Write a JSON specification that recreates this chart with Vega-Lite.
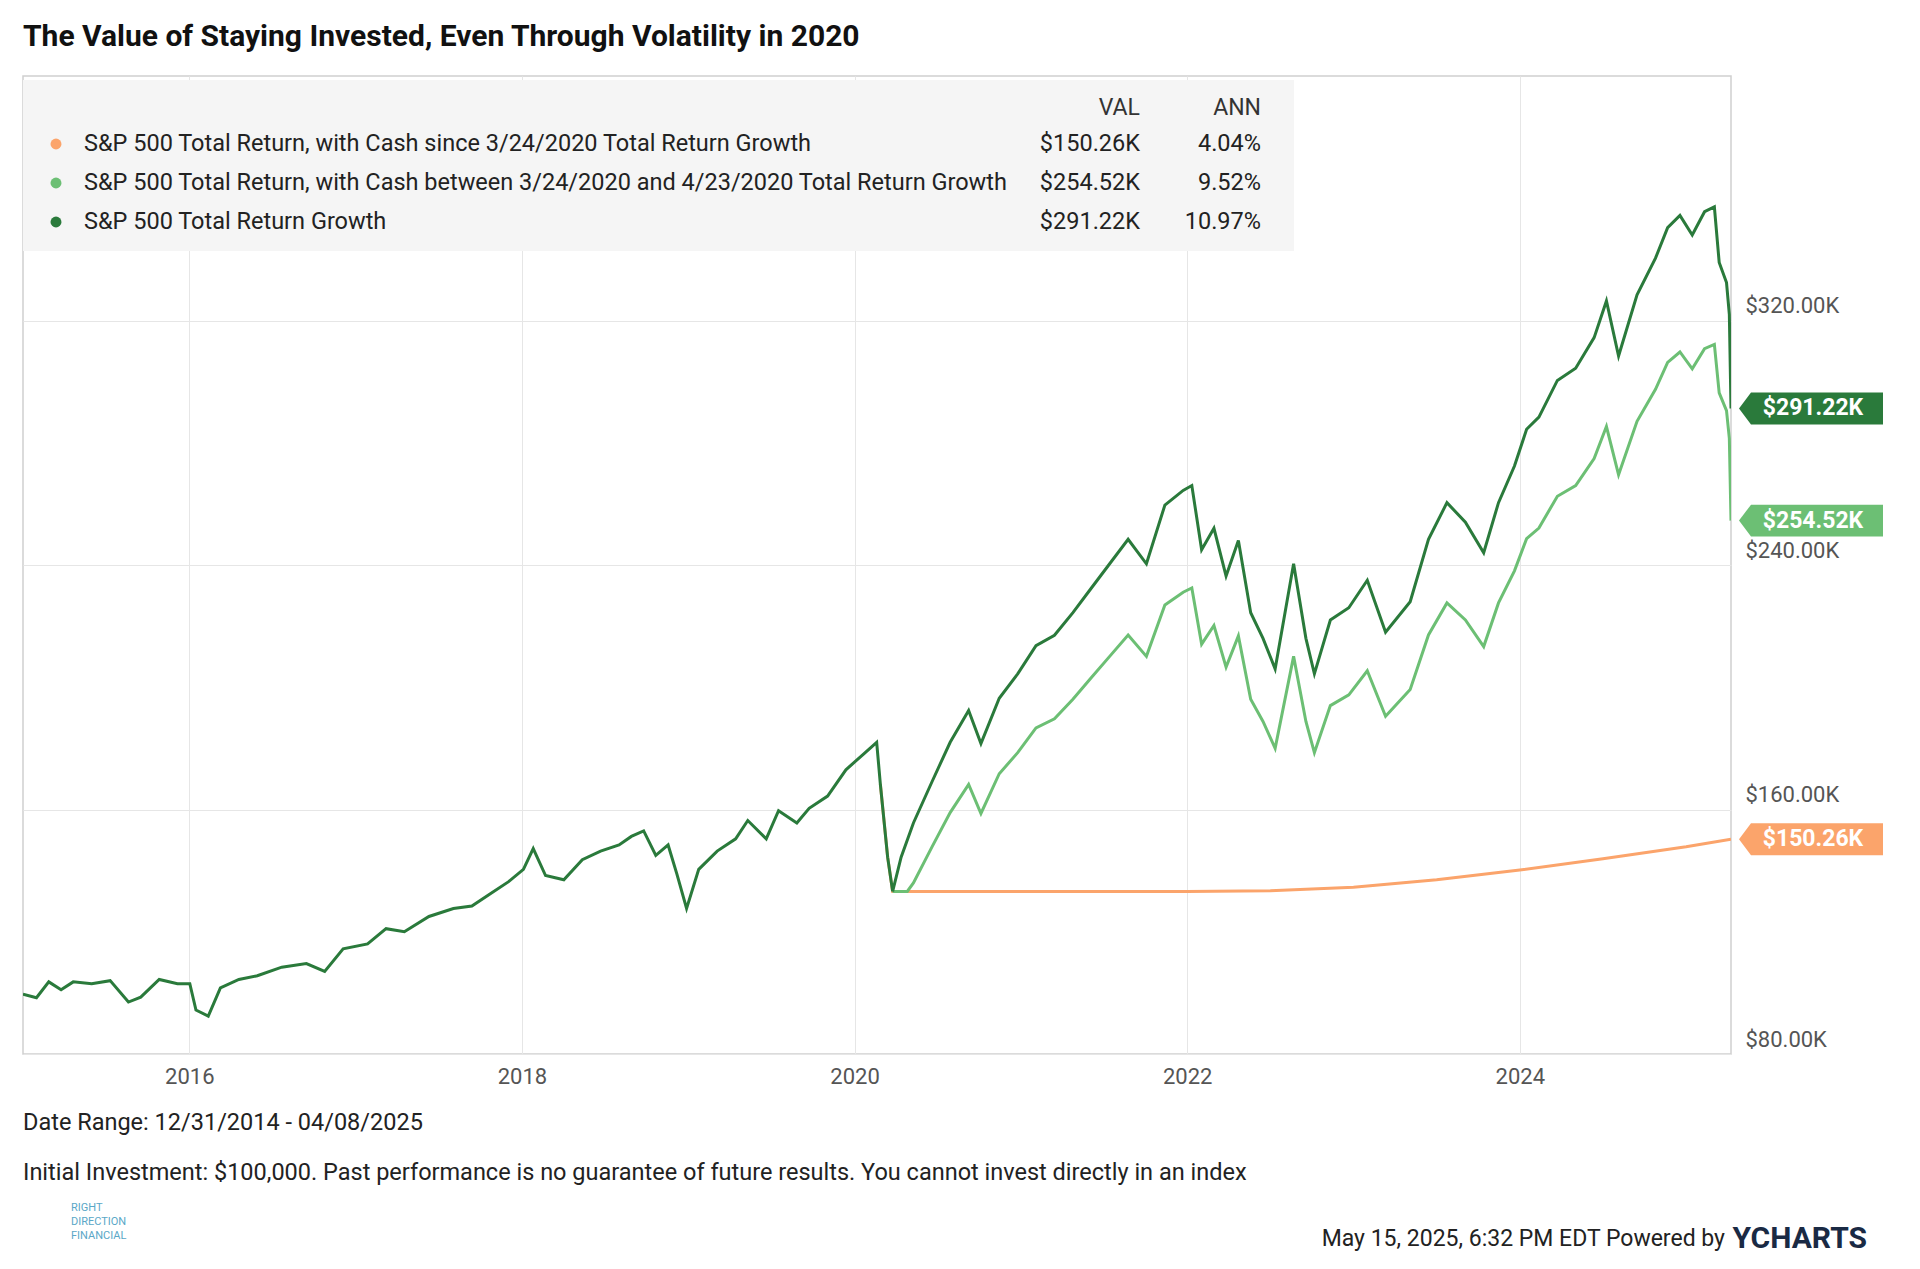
{
  "$schema": "https://vega.github.io/schema/vega-lite/v6.json",
  "width": 1708,
  "height": 978,
  "autosize": "none",
  "padding": {"left": 23, "top": 76, "right": 189, "bottom": 215},
  "background": "white",
  "config": {
    "font": "Roboto",
    "view": {"stroke": "#d0d0d0", "strokeWidth": 1.5}
  },
  "datasets": {
    "dark": [
      {"t": 2015.000, "v": 99.6}, {"t": 2015.081, "v": 98.4}, {"t": 2015.155, "v": 103.6},
      {"t": 2015.229, "v": 101.0}, {"t": 2015.302, "v": 103.6}, {"t": 2015.413, "v": 103.0},
      {"t": 2015.524, "v": 104.0}, {"t": 2015.634, "v": 97.0}, {"t": 2015.708, "v": 98.6},
      {"t": 2015.819, "v": 104.4}, {"t": 2015.929, "v": 103.0}, {"t": 2016.003, "v": 103.0},
      {"t": 2016.040, "v": 94.4}, {"t": 2016.114, "v": 92.4}, {"t": 2016.187, "v": 101.6},
      {"t": 2016.298, "v": 104.4}, {"t": 2016.409, "v": 105.6}, {"t": 2016.556, "v": 108.4},
      {"t": 2016.704, "v": 109.6}, {"t": 2016.814, "v": 107.0}, {"t": 2016.925, "v": 114.4},
      {"t": 2017.072, "v": 116.0}, {"t": 2017.183, "v": 121.0}, {"t": 2017.293, "v": 120.0},
      {"t": 2017.441, "v": 125.0}, {"t": 2017.588, "v": 127.6}, {"t": 2017.699, "v": 128.4},
      {"t": 2017.810, "v": 132.4}, {"t": 2017.920, "v": 136.4}, {"t": 2018.009, "v": 140.4},
      {"t": 2018.068, "v": 147.2}, {"t": 2018.142, "v": 138.4}, {"t": 2018.252, "v": 137.0},
      {"t": 2018.363, "v": 143.6}, {"t": 2018.473, "v": 146.4}, {"t": 2018.584, "v": 148.4},
      {"t": 2018.658, "v": 151.2}, {"t": 2018.732, "v": 153.0}, {"t": 2018.805, "v": 145.0},
      {"t": 2018.879, "v": 148.4}, {"t": 2018.931, "v": 139.0}, {"t": 2018.990, "v": 127.6},
      {"t": 2019.063, "v": 140.4}, {"t": 2019.174, "v": 146.4}, {"t": 2019.285, "v": 150.4},
      {"t": 2019.358, "v": 156.4}, {"t": 2019.469, "v": 150.4}, {"t": 2019.543, "v": 159.6},
      {"t": 2019.653, "v": 155.6}, {"t": 2019.727, "v": 160.4}, {"t": 2019.838, "v": 164.4},
      {"t": 2019.948, "v": 173.0}, {"t": 2020.059, "v": 178.4}, {"t": 2020.133, "v": 182.0},
      {"t": 2020.155, "v": 168.4}, {"t": 2020.199, "v": 144.4}, {"t": 2020.229, "v": 133.2},
      {"t": 2020.280, "v": 144.4}, {"t": 2020.354, "v": 155.6}, {"t": 2020.465, "v": 169.0},
      {"t": 2020.575, "v": 182.0}, {"t": 2020.686, "v": 192.4}, {"t": 2020.760, "v": 181.6},
      {"t": 2020.870, "v": 196.4}, {"t": 2020.981, "v": 204.4}, {"t": 2021.091, "v": 213.6},
      {"t": 2021.202, "v": 217.0}, {"t": 2021.313, "v": 224.4}, {"t": 2021.423, "v": 232.4},
      {"t": 2021.534, "v": 240.4}, {"t": 2021.645, "v": 248.4}, {"t": 2021.755, "v": 240.4},
      {"t": 2021.866, "v": 259.6}, {"t": 2021.976, "v": 264.4}, {"t": 2022.028, "v": 266.0},
      {"t": 2022.087, "v": 245.0}, {"t": 2022.161, "v": 252.0}, {"t": 2022.234, "v": 236.4},
      {"t": 2022.308, "v": 248.0}, {"t": 2022.382, "v": 224.4}, {"t": 2022.456, "v": 216.0},
      {"t": 2022.529, "v": 206.0}, {"t": 2022.640, "v": 240.4}, {"t": 2022.714, "v": 216.0},
      {"t": 2022.765, "v": 204.4}, {"t": 2022.861, "v": 222.0}, {"t": 2022.972, "v": 226.0},
      {"t": 2023.083, "v": 235.0}, {"t": 2023.193, "v": 218.0}, {"t": 2023.341, "v": 228.0},
      {"t": 2023.451, "v": 248.4}, {"t": 2023.562, "v": 260.4}, {"t": 2023.673, "v": 254.0},
      {"t": 2023.783, "v": 244.0}, {"t": 2023.872, "v": 260.4}, {"t": 2023.968, "v": 272.4},
      {"t": 2024.041, "v": 284.4}, {"t": 2024.115, "v": 288.4}, {"t": 2024.226, "v": 300.4},
      {"t": 2024.336, "v": 304.4}, {"t": 2024.447, "v": 314.4}, {"t": 2024.521, "v": 326.4},
      {"t": 2024.594, "v": 308.4}, {"t": 2024.705, "v": 328.4}, {"t": 2024.816, "v": 340.4},
      {"t": 2024.889, "v": 350.4}, {"t": 2024.963, "v": 354.4}, {"t": 2025.037, "v": 348.0},
      {"t": 2025.111, "v": 355.6}, {"t": 2025.170, "v": 357.2}, {"t": 2025.199, "v": 339.0},
      {"t": 2025.243, "v": 332.4}, {"t": 2025.260, "v": 322.0}, {"t": 2025.270, "v": 291.22}
    ],
    "light": [
      {"t": 2020.229, "v": 133.2}, {"t": 2020.317, "v": 133.2}, {"t": 2020.354, "v": 136.0},
      {"t": 2020.465, "v": 147.7}, {"t": 2020.575, "v": 159.0}, {"t": 2020.686, "v": 168.2},
      {"t": 2020.760, "v": 158.7}, {"t": 2020.870, "v": 171.7}, {"t": 2020.981, "v": 178.6},
      {"t": 2021.091, "v": 186.7}, {"t": 2021.202, "v": 189.7}, {"t": 2021.313, "v": 196.1},
      {"t": 2021.423, "v": 203.1}, {"t": 2021.534, "v": 210.1}, {"t": 2021.645, "v": 217.1},
      {"t": 2021.755, "v": 210.1}, {"t": 2021.866, "v": 226.9}, {"t": 2021.976, "v": 231.1},
      {"t": 2022.028, "v": 232.5}, {"t": 2022.087, "v": 214.1}, {"t": 2022.161, "v": 220.2},
      {"t": 2022.234, "v": 206.6}, {"t": 2022.308, "v": 216.8}, {"t": 2022.382, "v": 196.1},
      {"t": 2022.456, "v": 188.8}, {"t": 2022.529, "v": 180.0}, {"t": 2022.640, "v": 210.1},
      {"t": 2022.714, "v": 188.8}, {"t": 2022.765, "v": 178.6}, {"t": 2022.861, "v": 194.0},
      {"t": 2022.972, "v": 197.5}, {"t": 2023.083, "v": 205.4}, {"t": 2023.193, "v": 190.5},
      {"t": 2023.341, "v": 199.3}, {"t": 2023.451, "v": 217.1}, {"t": 2023.562, "v": 227.6},
      {"t": 2023.673, "v": 222.0}, {"t": 2023.783, "v": 213.3}, {"t": 2023.872, "v": 227.6},
      {"t": 2023.968, "v": 238.1}, {"t": 2024.041, "v": 248.6}, {"t": 2024.115, "v": 252.1},
      {"t": 2024.226, "v": 262.5}, {"t": 2024.336, "v": 266.0}, {"t": 2024.447, "v": 274.8},
      {"t": 2024.521, "v": 285.3}, {"t": 2024.594, "v": 269.5}, {"t": 2024.705, "v": 287.0},
      {"t": 2024.816, "v": 297.5}, {"t": 2024.889, "v": 306.3}, {"t": 2024.963, "v": 309.7},
      {"t": 2025.037, "v": 304.2}, {"t": 2025.111, "v": 310.8}, {"t": 2025.170, "v": 312.2},
      {"t": 2025.199, "v": 296.3}, {"t": 2025.243, "v": 290.5}, {"t": 2025.260, "v": 281.4},
      {"t": 2025.270, "v": 254.52}
    ],
    "orange": [
      {"t": 2020.155, "v": 168.4}, {"t": 2020.199, "v": 144.4}, {"t": 2020.229, "v": 133.2},
      {"t": 2021.0, "v": 133.2}, {"t": 2022.0, "v": 133.2}, {"t": 2022.5, "v": 133.4},
      {"t": 2023.0, "v": 134.6}, {"t": 2023.5, "v": 137.0}, {"t": 2024.0, "v": 140.2},
      {"t": 2024.5, "v": 143.9}, {"t": 2025.0, "v": 147.8}, {"t": 2025.270, "v": 150.26}
    ],
    "tags": [
      {"v": 291.22, "label": "$291.22K", "c": "#2a7a3b"},
      {"v": 254.52, "label": "$254.52K", "c": "#6cbf74"},
      {"v": 150.26, "label": "$150.26K", "c": "#fba46b"}
    ]
  },
  "layer": [
    {
      "data": {"name": "dark"},
      "encoding": {
        "x": {
          "field": "t", "type": "quantitative",
          "scale": {"domain": [2015.0, 2025.27], "nice": false, "zero": false},
          "axis": {
            "values": [2016, 2018, 2020, 2022, 2024], "format": "d", "title": null,
            "grid": true, "gridColor": "#e6e6e6", "ticks": false, "domain": false,
            "labelFontSize": 22, "labelColor": "#555555", "labelPadding": 12
          }
        },
        "y": {
          "field": "v", "type": "quantitative",
          "scale": {"domain": [80, 400], "nice": false, "zero": false},
          "axis": {
            "orient": "right", "values": [80, 160, 240, 320], "title": null,
            "labelExpr": "'$' + format(datum.value, '.2f') + 'K'",
            "grid": true, "gridColor": "#e6e6e6", "ticks": false, "domain": false,
            "labelFontSize": 22, "labelColor": "#555555", "labelPadding": 14,
            "labelBaseline": "bottom", "labelOffset": -3
          }
        }
      },
      "layer": [
        {
          "data": {"name": "orange"},
          "mark": {"type": "line", "color": "#fba46b", "strokeWidth": 3, "clip": true}
        },
        {
          "data": {"name": "light"},
          "mark": {"type": "line", "color": "#6cbf74", "strokeWidth": 3, "clip": true}
        },
        {
          "mark": {"type": "line", "color": "#2a7a3b", "strokeWidth": 3, "clip": true}
        },
        {
          "data": {"name": "tags"},
          "mark": {
            "type": "point", "filled": true, "opacity": 1, "size": 20736,
            "shape": "M-1,0 L-0.833,-0.222 L1,-0.222 L1,0.222 L-0.833,0.222 Z"
          },
          "encoding": {
            "x": {"value": 1788},
            "color": {"field": "c", "type": "nominal", "scale": null}
          }
        },
        {
          "data": {"name": "tags"},
          "mark": {"type": "text", "color": "white", "fontWeight": "bold", "fontSize": 23, "align": "center", "baseline": "middle"},
          "encoding": {"x": {"value": 1790}, "text": {"field": "label"}}
        }
      ]
    },
    {
      "data": {"values": [{"k": 1}]},
      "mark": {"type": "rect", "color": "#f5f5f5", "x": 0, "x2": 1271, "y": 4, "y2": 175}
    },
    {
      "data": {"values": [{"k": 1}]},
      "mark": {"type": "text", "fontSize": 23, "color": "#333333", "align": "right", "baseline": "middle", "x": 1117, "y": 32, "text": "VAL"}
    },
    {
      "data": {"values": [{"k": 1}]},
      "mark": {"type": "text", "fontSize": 23, "color": "#333333", "align": "right", "baseline": "middle", "x": 1238, "y": 32, "text": "ANN"}
    },
    {
      "data": {"values": [{"k": 1}]},
      "mark": {"type": "point", "filled": true, "opacity": 1, "size": 120, "color": "#fba46b", "x": 33, "y": 68}
    },
    {
      "data": {"values": [{"k": 1}]},
      "mark": {"type": "point", "filled": true, "opacity": 1, "size": 120, "color": "#6cbf74", "x": 33, "y": 107}
    },
    {
      "data": {"values": [{"k": 1}]},
      "mark": {"type": "point", "filled": true, "opacity": 1, "size": 120, "color": "#2a7a3b", "x": 33, "y": 146}
    },
    {
      "data": {"values": [
        {"s": "S&P 500 Total Return, with Cash since 3/24/2020 Total Return Growth", "val": "$150.26K", "ann": "4.04%", "y": 68},
        {"s": "S&P 500 Total Return, with Cash between 3/24/2020 and 4/23/2020 Total Return Growth", "val": "$254.52K", "ann": "9.52%", "y": 107},
        {"s": "S&P 500 Total Return Growth", "val": "$291.22K", "ann": "10.97%", "y": 146}
      ]},
      "layer": [
        {"mark": {"type": "text", "fontSize": 23.5, "color": "#222222", "align": "left", "baseline": "middle", "x": 61}, "encoding": {"y": {"field": "y", "type": "quantitative", "scale": null}, "text": {"field": "s"}}},
        {"mark": {"type": "text", "fontSize": 23.5, "color": "#222222", "align": "right", "baseline": "middle", "x": 1117}, "encoding": {"y": {"field": "y", "type": "quantitative", "scale": null}, "text": {"field": "val"}}},
        {"mark": {"type": "text", "fontSize": 23.5, "color": "#222222", "align": "right", "baseline": "middle", "x": 1238}, "encoding": {"y": {"field": "y", "type": "quantitative", "scale": null}, "text": {"field": "ann"}}}
      ]
    },
    {
      "data": {"values": [{"k": 1}]},
      "mark": {"type": "text", "fontSize": 30, "fontWeight": "bold", "color": "#111111", "align": "left", "baseline": "middle", "x": 0, "y": -39, "text": "The Value of Staying Invested, Even Through Volatility in 2020"}
    },
    {
      "data": {"values": [{"k": 1}]},
      "mark": {"type": "text", "fontSize": 23.5, "color": "#222222", "align": "left", "baseline": "middle", "x": 0, "y": 1047, "text": "Date Range: 12/31/2014 - 04/08/2025"}
    },
    {
      "data": {"values": [{"k": 1}]},
      "mark": {"type": "text", "fontSize": 23.5, "color": "#222222", "align": "left", "baseline": "middle", "x": 0, "y": 1097, "text": "Initial Investment: $100,000. Past performance is no guarantee of future results. You cannot invest directly in an index"}
    },
    {
      "data": {"values": [{"k": 1}]},
      "mark": {"type": "text", "fontSize": 23, "color": "#222222", "align": "right", "baseline": "middle", "x": 1702, "y": 1163, "text": "May 15, 2025, 6:32 PM EDT Powered by"}
    },
    {
      "data": {"values": [{"k": 1}]},
      "mark": {"type": "text", "fontSize": 30, "fontWeight": "bold", "color": "#1a2a44", "align": "right", "baseline": "middle", "x": 1844, "y": 1163, "text": "YCHARTS"}
    },
    {
      "data": {"values": [{"k": 1}]},
      "mark": {"type": "text", "fontSize": 11, "color": "#5aa7c7", "align": "left", "baseline": "middle", "x": 48, "y": 1132, "lineHeight": 14, "text": ["RIGHT", "DIRECTION", "FINANCIAL"]}
    }
  ]
}
